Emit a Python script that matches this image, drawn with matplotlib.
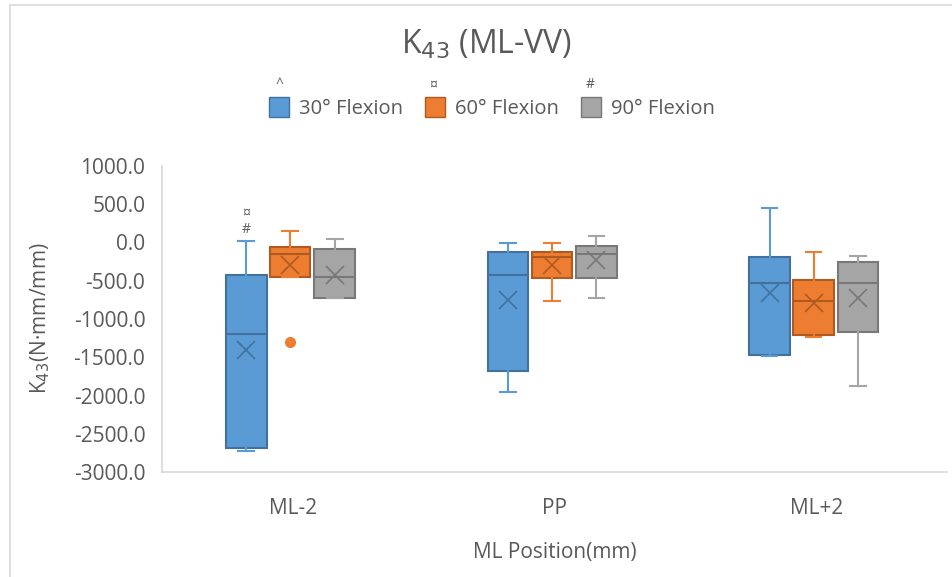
import numpy as np
import matplotlib.pyplot as plt
from matplotlib.lines import Line2D

plt.rcParams['font.family'] = ['Open Sans', 'DejaVu Sans']

# === Data ===
categories = ['ML-2', 'PP', 'ML+2']
series = ['30° Flexion', '60° Flexion', '90° Flexion']
legend_marks = ['^', '¤', '#']

# per series: whislo, q1, median, q3, whishi, mean for each category
flex30_lo = [-2730, -1960, -1490]
flex30_q1 = [-2690, -1685, -1465]
flex30_med = [-1200, -430, -525]
flex30_q3 = [-420, -130, -185]
flex30_hi = [15, 0, 445]
flex30_mean = [-1400, -750, -655]
flex30_out = [[], [], []]

flex60_lo = [-457, -760, -1230]
flex60_q1 = [-457, -470, -1215]
flex60_med = [-145, -195, -760]
flex60_q3 = [-65, -130, -495]
flex60_hi = [145, 0, -130]
flex60_mean = [-290, -300, -795]
flex60_out = [[-1295], [], []]

flex90_lo = [-732, -720, -1880]
flex90_q1 = [-732, -470, -1175]
flex90_med = [-455, -145, -535]
flex90_q3 = [-90, -50, -260]
flex90_hi = [40, 80, -170]
flex90_mean = [-420, -235, -730]
flex90_out = [[], [], []]

yticks = np.arange(-3000, 1001, 500)

fills = ['#5B9BD5', '#ED7D31', '#A5A5A5']
edges = ['#41719C', '#AE5A21', '#787878']
offsets = [-0.178, -0.01, 0.16]
text_col = '#595959'


def make_stats(lo, q1, med, q3, hi, mean, out):
    return [dict(whislo=lo[i], q1=q1[i], med=med[i], q3=q3[i], whishi=hi[i],
                 mean=mean[i], fliers=out[i]) for i in range(len(lo))]


all_stats = [
    make_stats(flex30_lo, flex30_q1, flex30_med, flex30_q3, flex30_hi, flex30_mean, flex30_out),
    make_stats(flex60_lo, flex60_q1, flex60_med, flex60_q3, flex60_hi, flex60_mean, flex60_out),
    make_stats(flex90_lo, flex90_q1, flex90_med, flex90_q3, flex90_hi, flex90_mean, flex90_out),
]

fig = plt.figure(figsize=(9.52, 5.77), dpi=100)
ax = fig.add_axes([162 / 952, 1 - 472 / 577, 785 / 952, 306 / 577])

base = np.arange(len(categories))
for k, stats in enumerate(all_stats):
    ax.bxp(stats, positions=base + offsets[k], widths=0.155, patch_artist=True,
           showmeans=True, manage_ticks=False,
           boxprops=dict(facecolor=fills[k], edgecolor=edges[k], linewidth=1.5),
           medianprops=dict(color=edges[k], linewidth=1.5),
           whiskerprops=dict(color=fills[k], linewidth=1.5),
           capprops=dict(color=fills[k], linewidth=1.5),
           capwidths=0.06,
           meanprops=dict(marker='x', markersize=13, markeredgecolor=edges[k],
                          markeredgewidth=1.2, linestyle='none'),
           flierprops=dict(marker='o', markersize=7, markerfacecolor=fills[k],
                           markeredgecolor=fills[k]))

# significance marks above the ML-2 30° whisker
ax.text(offsets[0], flex30_hi[0] + 370, '¤', ha='center', va='center', fontsize=10, color=text_col)
ax.text(offsets[0], flex30_hi[0] + 155, '#', ha='center', va='center', fontsize=10, color=text_col)

ax.set_xlim(-0.5, 2.5)
ax.set_ylim(-3000, 1000)
ax.set_yticks(yticks)
ax.set_yticklabels([f'{v:.1f}' for v in yticks])
ax.set_xticks(base)
ax.set_xticklabels(categories)
ax.tick_params(length=0, colors=text_col, labelsize=15)
ax.tick_params(axis='y', pad=12)
ax.tick_params(axis='x', pad=19)
for s in ['top', 'right']:
    ax.spines[s].set_visible(False)
for s in ['left', 'bottom']:
    ax.spines[s].set_color('#D9D9D9')
    ax.spines[s].set_linewidth(1.2)

ax.set_xlabel('ML Position(mm)', fontsize=15, color=text_col, labelpad=16)
fig.text(40 / 952, 1 - 318 / 577, r'K$_{43}$(N·mm/mm)', rotation=90, ha='center',
         va='center', fontsize=15, color=text_col)

fig.text(487 / 952, 1 - 45 / 577, r'K$_{43}$ (ML-VV)', ha='center', va='center',
         fontsize=23, color=text_col)

# legend
handles = [Line2D([], [], marker='s', linestyle='none', markersize=15,
                  markerfacecolor=fills[k], markeredgecolor=edges[k]) for k in range(3)]
leg = fig.legend(handles, series, loc='center', bbox_to_anchor=(492 / 952, 1 - 109 / 577),
                 ncol=3, frameon=False, fontsize=14.5, handlelength=1.0, handletextpad=0.5,
                 columnspacing=1.1, labelcolor=text_col)
mark_x = [279, 433, 590]
for k in range(3):
    fig.text(mark_x[k] / 952, 1 - 85 / 577, legend_marks[k], ha='center', va='center',
             fontsize=10, color=text_col)

# chart area border
fig.add_artist(Line2D([10 / 952, 10 / 952], [0, 1 - 5 / 577], color='#D9D9D9', lw=1.2))
fig.add_artist(Line2D([10 / 952, 1], [1 - 5 / 577, 1 - 5 / 577], color='#D9D9D9', lw=1.2))

fig.savefig('out.png', dpi=100)
